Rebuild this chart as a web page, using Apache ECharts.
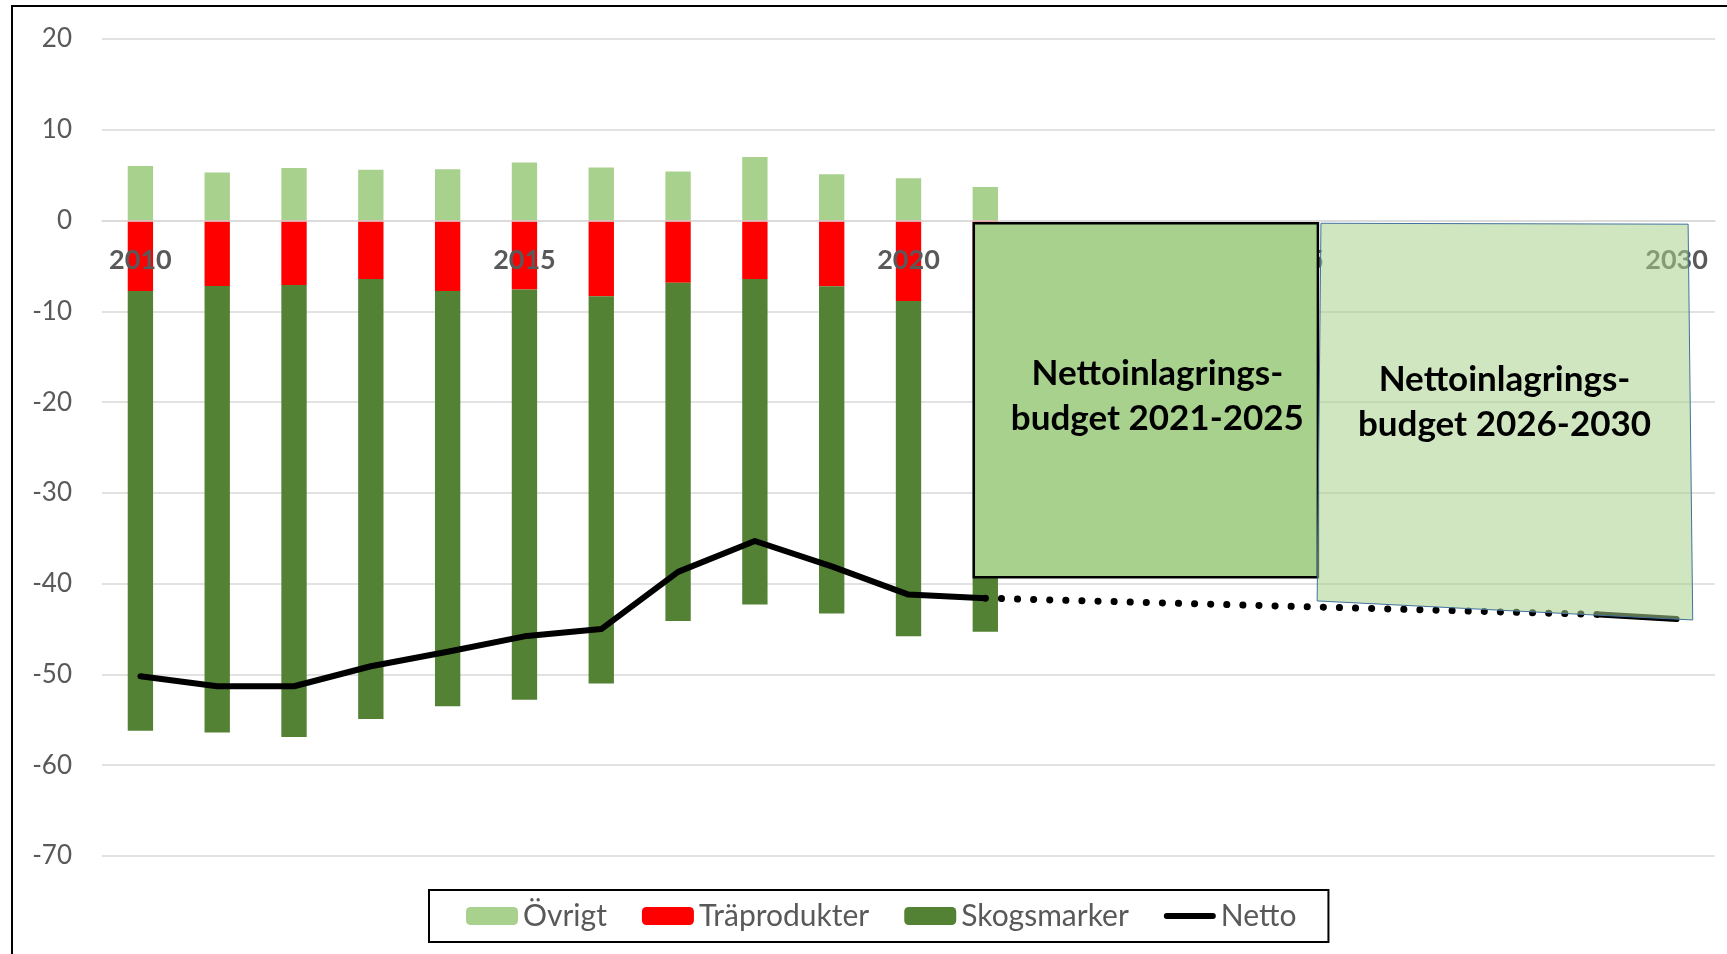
<!DOCTYPE html>
<html>
<head>
<meta charset="utf-8">
<script src="https://cdn.jsdelivr.net/npm/echarts@6/dist/echarts.min.js"></script>
<style>
  html, body { margin: 0; padding: 0; background: #fff; }
  #chart { width: 1727px; height: 954px; }
</style>
</head>
<body>
<div id="chart"></div>
<script>
// år på x-axeln
const years = ['2010', '2011', '2012', '2013', '2014', '2015', '2016', '2017', '2018', '2019', '2020',
  '2021', '2022', '2023', '2024', '2025', '2026', '2027', '2028', '2029', '2030'];
// staplar (Mt CO2-ekv)
const ovrigt = [6.0, 5.3, 5.8, 5.6, 5.65, 6.4, 5.85, 5.4, 7.0, 5.1, 4.65, 3.7];
const traprodukter = [-7.75, -7.2, -7.1, -6.45, -7.75, -7.6, -8.35, -6.85, -6.45, -7.25, -8.85, -8.8];
const skogsmarker = [-48.45, -49.2, -49.8, -48.45, -45.75, -45.2, -42.65, -37.25, -35.85, -36.05, -36.95, -36.5];
// nettolinje, historik + slutbit 2029-2030
const netto = [-50.2, -51.3, -51.3, -49.1, -47.5, -45.8, -45.0, -38.7, -35.3, -38.1, -41.2, -41.6,
  null, null, null, null, null, null, null, -43.4, -43.9];
// prickad prognos 2021 -> 2029
const nettoPrognos = [null, null, null, null, null, null, null, null, null, null, null, -41.6,
  null, null, null, null, null, null, null, -43.4, null];
const yTicks = { min: -70, max: 20, interval: 10 };

// budgetrutor, hörn i (kategoriindex, värde)
const box1 = [[10.85, -0.3], [15.33, -39.3]];
const box2 = [[15.37, -0.3], [20.15, -0.4], [20.21, -44.0], [15.32, -41.9]];
const boxText1 = { pos: [13.24, -19.4], text: 'Nettoinlagrings-\nbudget 2021-2025' };
const boxText2 = { pos: [17.76, -20.0], text: 'Nettoinlagrings-\nbudget 2026-2030' };

const FONT = 'Lato';
const GREY = '#595959';

const myChart = echarts.init(document.getElementById('chart'));
const option = {
  animation: false,
  textStyle: { fontFamily: FONT },
  grid: { left: 102, right: 12, top: 39, bottom: 98, containLabel: false },
  legend: {
    data: [
      { name: 'Övrigt' },
      { name: 'Träprodukter' },
      { name: 'Skogsmarker' },
      { name: 'Netto', icon: 'path://M3,0 L49,0 A3,3 0 0 1 49,6 L3,6 A3,3 0 0 1 3,0 Z', itemStyle: { color: '#000' } }
    ],
    left: 429,
    top: 890,
    padding: [11, 32, 11, 37],
    borderColor: '#000',
    borderWidth: 2,
    itemWidth: 52,
    itemHeight: 18,
    itemGap: 35,
    textStyle: { fontFamily: FONT, fontSize: 30, color: GREY }
  },
  xAxis: {
    type: 'category',
    data: years,
    z: 10,
    axisLine: { show: true, onZero: false, lineStyle: { color: '#d9d9d9', width: 1.5 } },
    axisTick: { show: false },
    axisLabel: {
      interval: 4,
      margin: 26,
      fontFamily: FONT,
      fontWeight: 'bold',
      fontSize: 27,
      color: GREY
    }
  },
  yAxis: {
    type: 'value',
    min: yTicks.min,
    max: yTicks.max,
    interval: yTicks.interval,
    axisLine: { show: false },
    axisTick: { show: false },
    splitLine: { lineStyle: { color: '#d9d9d9', width: 1.5 } },
    axisLabel: { fontFamily: FONT, fontSize: 26, color: GREY, margin: 30 }
  },
  series: [
    {
      name: 'Övrigt', type: 'bar', stack: 'tot', data: ovrigt, barWidth: '33%',
      itemStyle: { color: '#a9d18e' }
    },
    {
      name: 'Träprodukter', type: 'bar', stack: 'tot', data: traprodukter,
      itemStyle: { color: '#ff0000' }
    },
    {
      name: 'Skogsmarker', type: 'bar', stack: 'tot', data: skogsmarker,
      itemStyle: { color: '#548235' }
    },
    {
      name: 'Netto', type: 'line', data: netto, symbol: 'none', connectNulls: false,
      lineStyle: { color: '#000', width: 6, cap: 'round', join: 'round' },
      itemStyle: { color: '#000' },
      z: 5
    },
    {
      name: 'Netto prognos', type: 'line', data: nettoPrognos, symbol: 'none', connectNulls: true,
      lineStyle: { color: '#000', width: 7, type: [0.1, 16], cap: 'round' },
      z: 5
    }
  ]
};
myChart.setOption(option);

// x-axeln ska ligga på nollan
const yZero = myChart.convertToPixel({ yAxisIndex: 0 }, 0);
const yBottom = myChart.convertToPixel({ yAxisIndex: 0 }, yTicks.min);
myChart.setOption({ xAxis: { offset: yZero - yBottom } });

// pixel från (kategoriindex, värde)
function toPx(p) {
  const x0 = myChart.convertToPixel({ xAxisIndex: 0 }, 0);
  const step = myChart.convertToPixel({ xAxisIndex: 0 }, 1) - x0;
  return [x0 + p[0] * step, myChart.convertToPixel({ yAxisIndex: 0 }, p[1])];
}

const b1a = toPx(box1[0]);
const b1b = toPx(box1[1]);
const boxTextStyle = {
  fontFamily: FONT, fontWeight: 'bold', fontSize: 35, fill: '#000',
  align: 'center', verticalAlign: 'middle', lineHeight: 45
};
const t1 = toPx(boxText1.pos);
const t2 = toPx(boxText2.pos);

myChart.setOption({
  graphic: [
    {
      type: 'rect', z: 100,
      shape: { x: b1a[0], y: b1a[1], width: b1b[0] - b1a[0], height: b1b[1] - b1a[1] },
      style: { fill: '#a9d18e', stroke: '#000', lineWidth: 2.5 }
    },
    {
      type: 'polygon', z: 101,
      shape: { points: box2.map(toPx) },
      style: { fill: 'rgba(169,209,142,0.55)', stroke: '#41719c', lineWidth: 1 }
    },
    {
      type: 'text', z: 102, x: t1[0], y: t1[1],
      style: Object.assign({ text: boxText1.text }, boxTextStyle)
    },
    {
      type: 'text', z: 102, x: t2[0], y: t2[1],
      style: Object.assign({ text: boxText2.text }, boxTextStyle)
    },
    {
      // ram runt hela diagrammet
      type: 'rect', z: 103, silent: true,
      shape: { x: 12, y: 6, width: 1800, height: 1000 },
      style: { fill: 'none', stroke: '#000', lineWidth: 2 }
    }
  ]
});

window.addEventListener('resize', () => myChart.resize());
</script>
</body>
</html>
